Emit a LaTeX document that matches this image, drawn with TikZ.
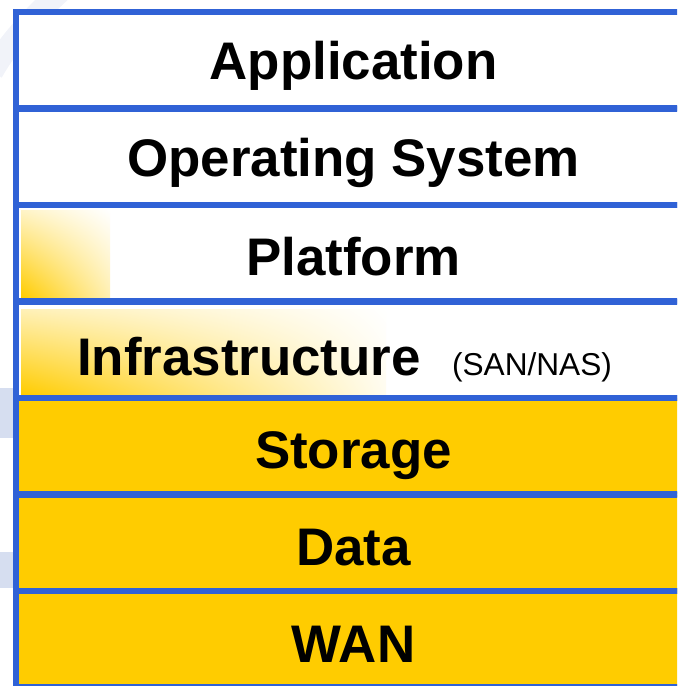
\documentclass[tikz,border=0pt]{standalone}
\usepackage{fontspec}
\setmainfont{Liberation Sans}
\usetikzlibrary{shadings}

\definecolor{layerblue}{RGB}{48,98,214}
\definecolor{layergold}{RGB}{255,204,0}
\definecolor{faintblue}{RGB}{214,222,240}
\definecolor{faintgray}{RGB}{241,243,249}

\tikzset{
  layer/.style={draw=layerblue, line width=0.12cm, minimum width=13.8cm,
    minimum height=1.93cm, inner sep=0},
  layertext/.style={font=\bfseries\fontsize{30.1}{36}\selectfont, inner sep=0, anchor=base},
  smalltext/.style={font=\fontsize{18}{22}\selectfont, inner sep=0, anchor=base}
}

\begin{document}
\begin{tikzpicture}[x=0.02cm, y=-0.02cm]
        \useasboundingbox (0,0) rectangle (677,686);
        \clip (0,0) rectangle (677,686);
        %% faint backdrop at the left edge
        \draw[faintgray, line width=0.45cm] (64,-12) .. controls (35,15) and (10,40) .. (-8,72);
        \fill[faintblue] (0,388) rectangle (13,438);
        \fill[faintblue] (0,552) rectangle (13,588);

        \node[layer, fill=white]     (app)      at (361, 60.25) {};
        \node[layer, fill=white]     (os)       at (361,156.75) {};
        \node[layer, fill=white]     (platform) at (361,253.25) {};
        \node[layer, fill=white]     (infra)    at (361,349.75) {};
        \node[layer, fill=layergold] (storage)  at (361,446.25) {};
        \node[layer, fill=layergold] (data)     at (361,542.75) {};
        \node[layer, fill=layergold] (wan)      at (361,639.25) {};

        %% gold fades behind platform and infrastructure
        \shade[lower left=layergold, upper right=white, upper left=layergold!22,
          lower right=layergold!30] (21,297) rectangle (110,210);
        \shade[lower left=layergold, upper right=white, upper left=layergold!28,
          lower right=layergold!6] (21,394.5) rectangle (386,309);

        \node[layertext] (app-label)      at (353.5, 80)  {Application};
        \node[layertext] (os-label)       at (353.5,176.5) {Operating System};
        \node[layertext] (platform-label) at (353.5,275)  {Platform};
        \node[layertext] (infra-label)    at (249,375)    {Infrastructure};
        \node[smalltext] (san-label)      at (532,375)    {(SAN/NAS)};
        \node[layertext] (storage-label)  at (353.5,468)  {Storage};
        \node[layertext] (data-label)     at (353.5,565)  {Data};
        \node[layertext] (wan-label)      at (353.5,662)  {WAN};
\end{tikzpicture}
\end{document}
